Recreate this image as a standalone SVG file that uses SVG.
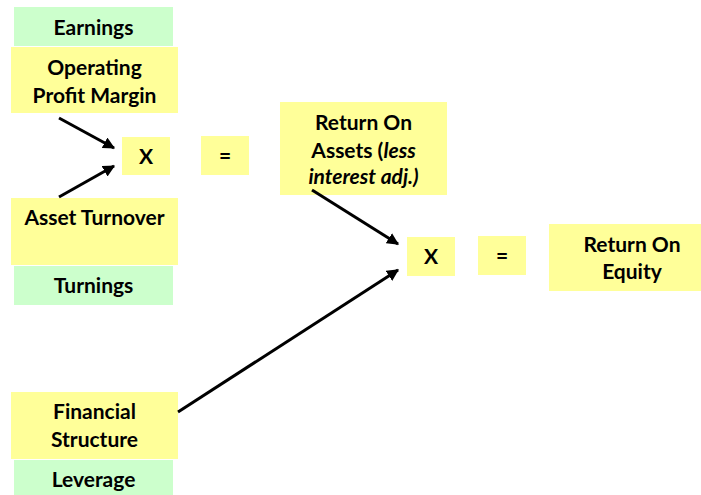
<svg xmlns="http://www.w3.org/2000/svg" width="701" height="495" viewBox="0 0 701 495">
<style>
.y{fill:#ffff99}
.g{fill:#ccffcc}
text{font-family:Lato,"Liberation Sans",sans-serif;font-weight:bold;font-size:21px;fill:#000;text-anchor:middle}
.c line{stroke:#000;stroke-width:3;marker-end:url(#ah)}
</style>
<defs>
<marker id="ah" viewBox="0 0 10 10" refX="9" refY="5" markerWidth="4" markerHeight="4" orient="auto" markerUnits="strokeWidth">
<path d="M0,0L10,5L0,10z" fill="#000"/>
</marker>
</defs>
<rect width="701" height="495" fill="#fff"/>
<g id="earnings"><rect class="g" x="14" y="7" width="159" height="39"/><text x="93.5" y="35">Earnings</text></g>
<g id="opm"><rect class="y" x="11" y="47" width="167" height="66"/><text x="94.5" y="75">Operating</text><text x="94.5" y="103">Profit Margin</text></g>
<g id="x1"><rect class="y" x="122" y="137" width="48" height="38"/><text x="146" y="164">X</text></g>
<g id="eq1"><rect class="y" x="201" y="136" width="48" height="39"/><text x="225" y="163">=</text></g>
<g id="at"><rect class="y" x="11" y="198" width="167" height="67"/><text x="94.5" y="225">Asset Turnover</text></g>
<g id="turnings"><rect class="g" x="14" y="266" width="159" height="39"/><text x="93.5" y="293">Turnings</text></g>
<g id="roa"><rect class="y" x="280" y="102" width="167" height="93"/><text x="363.5" y="130">Return On</text><text x="363.5" y="158">Assets (<tspan font-style="italic">less</tspan></text><text x="363.5" y="184" font-style="italic">interest adj.)</text></g>
<g id="x2"><rect class="y" x="407" y="237" width="48" height="39"/><text x="431" y="264">X</text></g>
<g id="eq2"><rect class="y" x="478" y="236" width="48" height="39"/><text x="502" y="263">=</text></g>
<g id="roe"><rect class="y" x="549" y="224" width="152" height="67"/><text x="632" y="252">Return On</text><text x="632" y="279">Equity</text></g>
<g id="fs"><rect class="y" x="11" y="392" width="167" height="67"/><text x="94.5" y="419">Financial</text><text x="94.5" y="447">Structure</text></g>
<g id="leverage"><rect class="g" x="14" y="460" width="159" height="35"/><text x="93.5" y="487">Leverage</text></g>
<g class="c" id="connectors">
<line x1="59" y1="118" x2="114" y2="148"/>
<line x1="59" y1="197" x2="114" y2="166"/>
<line x1="312" y1="190" x2="398" y2="244"/>
<line x1="178" y1="412" x2="398" y2="270"/>
</g>
</svg>
